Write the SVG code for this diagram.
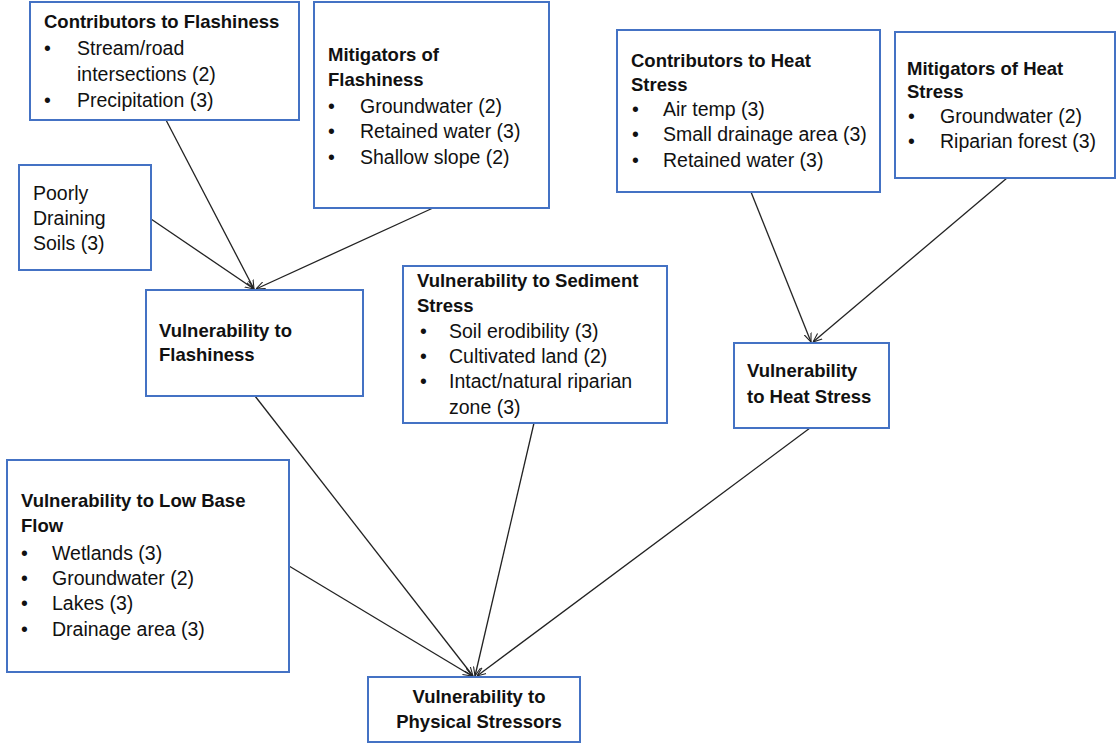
<svg xmlns="http://www.w3.org/2000/svg" width="1117" height="744" viewBox="0 0 1117 744">
  <defs>
    <marker id="arrow" viewBox="0 0 10 10" refX="10" refY="5" markerWidth="9" markerHeight="9" markerUnits="userSpaceOnUse" orient="auto">
      <path d="M0,1 L10,5 L0,9" fill="none" stroke="#222" stroke-width="1.2"/>
    </marker>
    <style>
      .box { fill: #fff; stroke: #4472c4; stroke-width: 2; }
      text { font-family: "Liberation Sans", Arial, sans-serif; fill: #111; }
      .h { font-weight: bold; font-size: 18.5px; }
      .t { font-size: 19.5px; }
      .edge { stroke: #222; stroke-width: 1.3; fill: none; marker-end: url(#arrow); }
    </style>
  </defs>
  <rect width="1117" height="744" fill="#fff"/>

  <g id="connectors">
    <line class="edge" x1="166" y1="120" x2="254" y2="289"/>
    <line class="edge" x1="151" y1="219" x2="254" y2="289"/>
    <line class="edge" x1="433" y1="208" x2="256" y2="289"/>
    <line class="edge" x1="751" y1="192" x2="811" y2="342"/>
    <line class="edge" x1="1007" y1="178" x2="813" y2="342"/>
    <line class="edge" x1="255" y1="396" x2="473" y2="676"/>
    <line class="edge" x1="534" y1="423" x2="475" y2="676"/>
    <line class="edge" x1="810" y1="428" x2="477" y2="676"/>
    <line class="edge" x1="289" y1="566" x2="472" y2="676"/>
  </g>

  <g id="contributors-flashiness">
    <rect class="box" x="30" y="2" width="269" height="118"/>
    <text class="h" x="44" y="28">Contributors to Flashiness</text>
    <text class="t" x="44" y="55">•</text><text class="t" x="77" y="55">Stream/road</text>
    <text class="t" x="77" y="81">intersections (2)</text>
    <text class="t" x="44" y="107">•</text><text class="t" x="77" y="107">Precipitation (3)</text>
  </g>

  <g id="mitigators-flashiness">
    <rect class="box" x="314" y="2" width="235" height="206"/>
    <text class="h" x="328" y="61">Mitigators of</text>
    <text class="h" x="328" y="86">Flashiness</text>
    <text class="t" x="328" y="113">•</text><text class="t" x="360" y="113">Groundwater (2)</text>
    <text class="t" x="328" y="138">•</text><text class="t" x="360" y="138">Retained water (3)</text>
    <text class="t" x="328" y="164">•</text><text class="t" x="360" y="164">Shallow slope (2)</text>
  </g>

  <g id="contributors-heat">
    <rect class="box" x="617" y="30" width="263" height="162"/>
    <text class="h" x="631" y="67">Contributors to Heat</text>
    <text class="h" x="631" y="91">Stress</text>
    <text class="t" x="632" y="116">•</text><text class="t" x="663" y="116">Air temp (3)</text>
    <text class="t" x="632" y="141">•</text><text class="t" x="663" y="141">Small drainage area (3)</text>
    <text class="t" x="632" y="167">•</text><text class="t" x="663" y="167">Retained water (3)</text>
  </g>

  <g id="mitigators-heat">
    <rect class="box" x="895" y="32" width="220" height="146"/>
    <text class="h" x="907" y="75">Mitigators of Heat</text>
    <text class="h" x="907" y="98">Stress</text>
    <text class="t" x="908" y="123">•</text><text class="t" x="940" y="123">Groundwater (2)</text>
    <text class="t" x="908" y="148">•</text><text class="t" x="940" y="148">Riparian forest (3)</text>
  </g>

  <g id="poorly-draining-soils">
    <rect class="box" x="19" y="165" width="132" height="105"/>
    <text class="t" x="33" y="200">Poorly</text>
    <text class="t" x="33" y="225">Draining</text>
    <text class="t" x="33" y="250">Soils (3)</text>
  </g>

  <g id="vulnerability-flashiness">
    <rect class="box" x="146" y="290" width="217" height="106"/>
    <text class="h" x="159" y="337">Vulnerability to</text>
    <text class="h" x="159" y="361">Flashiness</text>
  </g>

  <g id="vulnerability-sediment">
    <rect class="box" x="403" y="266" width="264" height="157"/>
    <text class="h" x="417" y="287">Vulnerability to Sediment</text>
    <text class="h" x="417" y="312">Stress</text>
    <text class="t" x="420" y="338">•</text><text class="t" x="449" y="338">Soil erodibility (3)</text>
    <text class="t" x="420" y="363">•</text><text class="t" x="449" y="363">Cultivated land (2)</text>
    <text class="t" x="420" y="388">•</text><text class="t" x="449" y="388">Intact/natural riparian</text>
    <text class="t" x="449" y="414">zone (3)</text>
  </g>

  <g id="vulnerability-heat">
    <rect class="box" x="734" y="343" width="155" height="85"/>
    <text class="h" x="747" y="377">Vulnerability</text>
    <text class="h" x="747" y="403">to Heat Stress</text>
  </g>

  <g id="vulnerability-low-base-flow">
    <rect class="box" x="7" y="460" width="282" height="212"/>
    <text class="h" x="21" y="507">Vulnerability to Low Base</text>
    <text class="h" x="21" y="532">Flow</text>
    <text class="t" x="21" y="560">•</text><text class="t" x="52" y="560">Wetlands (3)</text>
    <text class="t" x="21" y="585">•</text><text class="t" x="52" y="585">Groundwater (2)</text>
    <text class="t" x="21" y="610">•</text><text class="t" x="52" y="610">Lakes (3)</text>
    <text class="t" x="21" y="636">•</text><text class="t" x="52" y="636">Drainage area (3)</text>
  </g>

  <g id="vulnerability-physical">
    <rect class="box" x="368" y="677" width="212" height="65"/>
    <text class="h" x="479" y="703" text-anchor="middle">Vulnerability to</text>
    <text class="h" x="479" y="728" text-anchor="middle">Physical Stressors</text>
  </g>
</svg>
